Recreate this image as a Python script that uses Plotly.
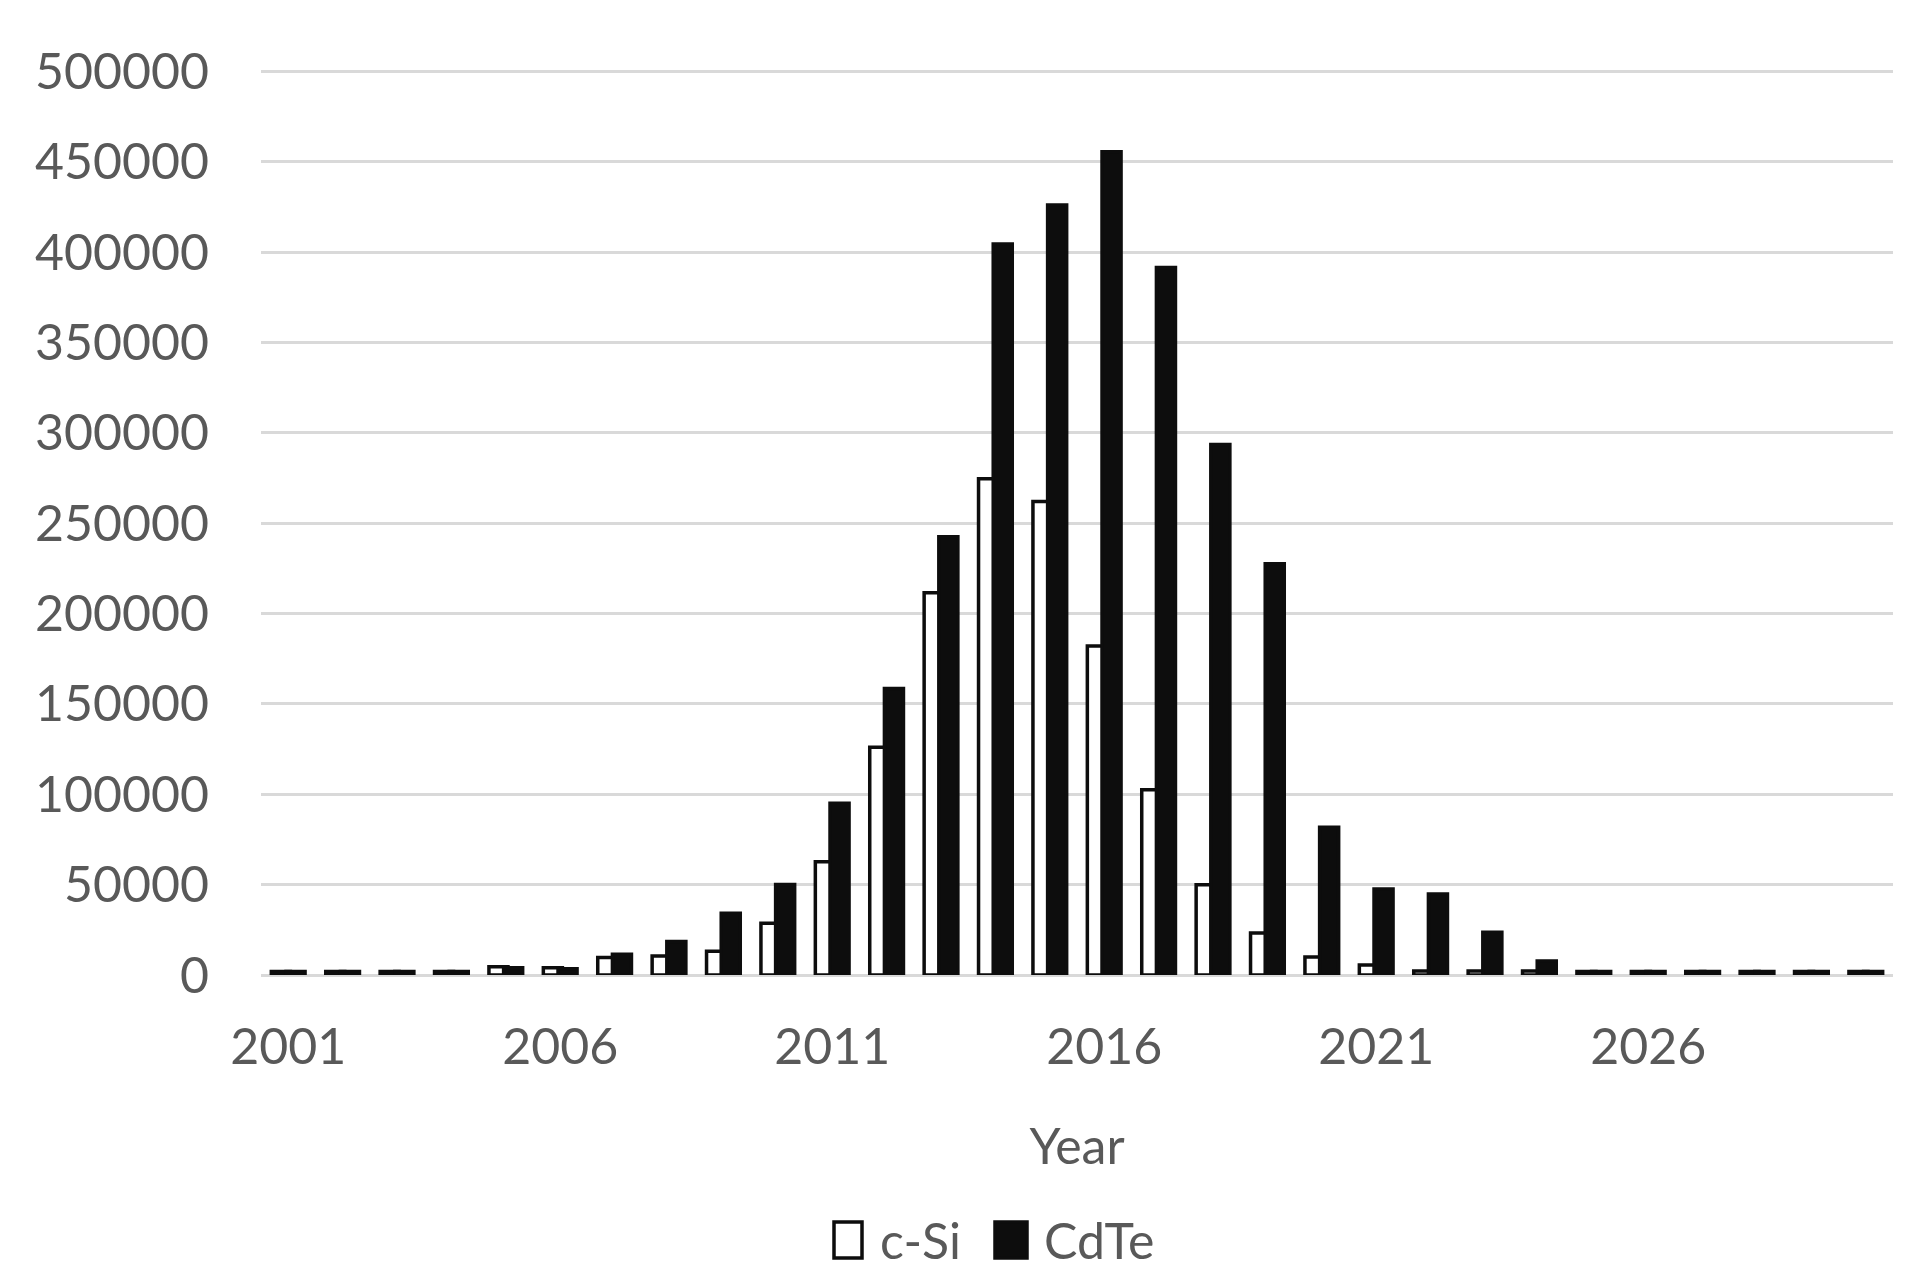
import plotly.graph_objects as go

years = list(range(2001, 2031))
c_si = [2000, 2000, 2000, 2000, 4500, 4000, 9700, 10500, 13100, 28600,
        62600, 126000, 211500, 274500, 262000, 182000, 102500, 50000, 23200, 10000,
        5500, 2200, 2200, 2200, 2000, 2000, 2000, 2000, 2000, 2000]
cdte = [2000, 2000, 2000, 2000, 4000, 3500, 11500, 18500, 34200, 50100,
        95000, 158500, 242500, 404500, 426000, 455500, 391500, 293500, 227500, 81800,
        47600, 44800, 23600, 7700, 2000, 2000, 2000, 2000, 2000, 2000]
year_ticks = [2001, 2006, 2011, 2016, 2021, 2026]
series_names = ["c-Si", "CdTe"]

W, H = 1931, 1287
ML, MR, MT, MB = 253, 46, 62, 320
OFF = 8  # page margin added by the browser
GREY = "#595959"
FONT = "Lato, 'Open Sans', sans-serif"


def px_x(px):
    return (px - OFF - ML) / (W - ML - MR)


def px_y(py):
    return (H - MB - (py - OFF)) / (H - MB - MT)


fig = go.Figure()
fig.add_trace(go.Bar(x=years, y=c_si, name=series_names[0], width=0.35, offset=-0.31,
                     marker=dict(color="white", line=dict(color="#0d0d0d", width=3.5)),
                     showlegend=False))
fig.add_trace(go.Bar(x=years, y=cdte, name=series_names[1], width=0.35, offset=-0.04,
                     marker=dict(color="#0d0d0d", line=dict(color="#0d0d0d", width=3.5)),
                     showlegend=False))

# legend drawn by hand so the swatches match the size of the original
shapes = []
annotations = []
legend_items = [(834, 862, "white", series_names[0], 878),
                (995, 1027, "#0d0d0d", series_names[1], 1042)]
for x0, x1, fill, label, tx in legend_items:
    shapes.append(dict(type="rect", xref="paper", yref="paper",
                       x0=px_x(x0), x1=px_x(x1), y0=px_y(1258), y1=px_y(1222),
                       fillcolor=fill, line=dict(color="#0d0d0d", width=3.5)))
    annotations.append(dict(text=label, xref="paper", yref="paper", x=px_x(tx), y=px_y(1240),
                            xanchor="left", yanchor="middle", showarrow=False,
                            font=dict(size=50, color=GREY, family=FONT)))

fig.update_layout(
    width=W, height=H,
    margin=dict(l=ML, r=MR, t=MT, b=MB),
    paper_bgcolor="white", plot_bgcolor="white",
    barmode="overlay",
    font=dict(family=FONT, size=50, color=GREY),
    shapes=shapes,
    annotations=annotations,
    xaxis=dict(range=[2000.5, 2030.5], tickvals=year_ticks, ticktext=[str(t) for t in year_ticks],
               showgrid=False, zeroline=False, showline=False,
               ticks="", ticklabelstandoff=38,
               tickfont=dict(size=50, color=GREY),
               title=dict(text="Year", standoff=54, font=dict(size=50, color=GREY))),
    yaxis=dict(range=[0, 500700], tickvals=list(range(0, 500001, 50000)), tickformat="d",
               showgrid=True, gridcolor="#d9d9d9", gridwidth=2.5,
               zeroline=True, zerolinecolor="#d9d9d9", zerolinewidth=2.5,
               showline=False, ticks="", ticklabelstandoff=51,
               tickfont=dict(size=50, color=GREY)),
)

fig.write_html("out.html")
